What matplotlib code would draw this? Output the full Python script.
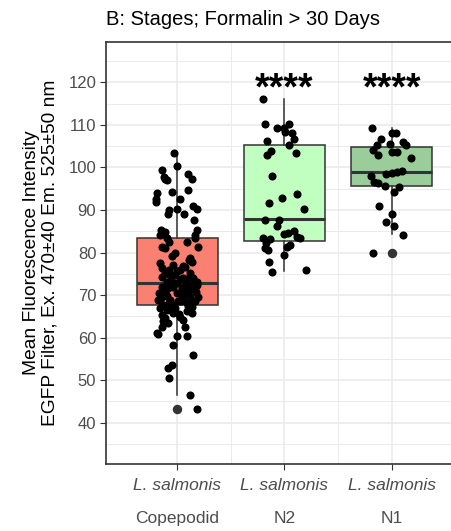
import numpy as np
import matplotlib
matplotlib.use("Agg")
import matplotlib.pyplot as plt

plt.rcParams['font.family'] = ['Liberation Sans', 'DejaVu Sans']

# stages on the x axis
stages = ["Copepodid", "N2", "N1"]
box_colors = ["#FA8072", "#C1FFC1", "#9BCD9B"]

# boxplot statistics
q1 = [67.7, 82.7, 95.7]
med = [72.8, 87.8, 98.9]
q3 = [83.4, 105.3, 104.9]
whis_lo = [46.6, 75.7, 84.4]
whis_hi = [103.3, 116.1, 109.2]
outliers = [[43.2], [], [79.8]]

# jittered points: values and horizontal jitter
cop_vals = [103.3, 100.4, 99.4, 97.8, 97.0, 97.4, 98.4, 97.2, 94.7, 94.3, 93.9, 92.7,
            91.8, 92.6, 91.0, 90.2, 90.0, 90.2, 89.0, 89.0, 87.7, 85.3, 85.3, 84.8,
            84.1, 84.5, 83.4, 84.1, 83.4, 82.6, 81.4, 81.4, 82.6, 81.0, 80.0, 78.7,
            77.9, 77.5, 77.1, 76.3, 75.9, 75.1, 74.7, 74.7, 75.1, 74.0, 74.0, 73.2,
            72.8, 72.4, 72.4, 72.0, 71.6, 72.0, 71.6, 72.0, 71.2, 70.0, 70.4, 70.0,
            69.6, 69.6, 68.9, 68.9, 68.5, 68.1, 68.5, 67.7, 67.7, 66.9, 66.5, 66.9,
            65.4, 65.8, 65.8, 64.6, 64.9, 63.8, 64.2, 63.4, 62.6, 62.6, 60.8, 60.3,
            60.3, 61.1, 58.3, 56.0, 53.6, 52.8, 50.5, 46.6, 43.2,
            73.6, 73.0, 71.0, 70.8, 69.2, 68.0, 73.8, 76.6, 79.2, 66.2, 70.6,
            74.4, 73.4, 72.2, 71.4, 70.2, 69.0, 68.2, 67.4, 75.6, 76.8, 74.2, 72.6,
            71.8, 70.8, 69.4, 68.6, 67.2, 66.4, 65.6, 73.0, 71.0, 69.8, 76.0, 78.2]
cop_jit = [-0.028, 0.0, -0.145, -0.124, -0.1, -0.115, 0.097, 0.134, 0.103, -0.052, -0.187, -0.199,
           -0.2, 0.025, 0.149, 0.18, -0.075, 0.0, -0.084, 0.062, 0.156, 0.18, -0.155, -0.115,
           -0.16, -0.124, -0.1, 0.165, 0.165, 0.088, 0.196, -0.145, -0.075, -0.115, -0.022, 0.119,
           0.134, -0.16, -0.037, -0.145, 0.025, -0.115, -0.068, -0.022, 0.119, 0.056, 0.149, -0.1,
           -0.006, 0.103, 0.18, -0.145, -0.084, -0.037, 0.041, 0.119, 0.165, -0.131, -0.006, 0.056,
           0.119, 0.196, -0.177, -0.068, 0.009, 0.088, 0.165, -0.131, -0.037, -0.16, -0.1, -0.022,
           -0.145, -0.037, 0.134, -0.115, 0.025, -0.131, 0.056, -0.084, -0.145, 0.072, -0.177, -0.006,
           0.088, -0.19, -0.037, 0.149, -0.052, -0.084, -0.075, 0.119, 0.18,
           0.08, -0.05, 0.1, -0.11, 0.04, 0.13, 0.03, 0.07, -0.05, 0.09, -0.17,
           0.12, 0.16, 0.07, 0.14, 0.09, 0.12, -0.08, 0.1, 0.0, 0.05, -0.14, -0.09,
           -0.12, 0.17, -0.15, 0.03, 0.14, -0.06, 0.02, 0.18, 0.08, -0.1, -0.08, 0.11]

n2_vals = [116.1, 110.2, 109.2, 109.2, 110.2, 108.4, 108.0, 106.7, 106.2, 105.4, 103.9,
           102.9, 103.3, 98.1, 92.9, 93.8, 91.6, 90.2, 87.7, 87.7, 86.3, 85.1, 84.3, 84.5,
           83.4, 83.2, 83.4, 83.7, 82.2, 81.8, 81.4, 81.0, 80.6, 79.4, 77.9, 75.5, 75.9]
n2_jit = [-0.205, -0.18, -0.071, -0.009, 0.044, 0.006, 0.069, 0.084, -0.164, 0.044, -0.127,
          -0.164, 0.106, -0.118, -0.024, 0.121, -0.149, 0.184, -0.18, -0.049, -0.071, 0.09, -0.009, 0.037,
          -0.196, -0.133, 0.146, 0.116, -0.171, 0.053, 0.022, -0.18, -0.155, -0.009, -0.14, -0.118, 0.2]

n1_vals = [109.2, 108.0, 108.0, 106.8, 106.0, 105.4, 105.4, 105.6, 104.2, 103.7, 103.7,
           102.9, 102.3, 99.2, 98.8, 99.0, 98.5, 98.1, 96.7, 96.4, 95.7, 95.5, 94.2, 90.9,
           89.0, 87.3, 86.3, 84.1, 79.8]
n1_jit = [-0.181, 0.0, 0.037, -0.1, 0.102, 0.134, -0.14, -0.016, -0.178, 0.006, 0.053,
          -0.131, 0.18, 0.093, 0.006, 0.047, -0.053, -0.193, -0.165, -0.131, -0.062, 0.068, 0.024, -0.116,
          0.0, -0.053, 0.024, 0.102, -0.171]

signif = ["", "****", "****"]
yticks = [40, 50, 60, 70, 80, 90, 100, 110, 120]

fig = plt.figure(figsize=(4.52, 5.31), dpi=100)
ax = fig.add_axes([106 / 452, 67 / 531, 357 / 452, 422 / 531])

pos = np.arange(1, len(stages) + 1)
stats = []
for i in range(len(stages)):
    stats.append(dict(q1=q1[i], med=med[i], q3=q3[i], whislo=whis_lo[i],
                      whishi=whis_hi[i], fliers=outliers[i]))

bp = ax.bxp(stats, positions=pos, widths=0.76, patch_artist=True, showcaps=False,
            boxprops=dict(edgecolor='#333333', linewidth=1.1),
            medianprops=dict(color='#333333', linewidth=2.2),
            whiskerprops=dict(color='#333333', linewidth=1.1),
            flierprops=dict(marker='o', markerfacecolor='#333333', markeredgecolor='#333333',
                            markersize=5.8),
            zorder=2)
for patch, c in zip(bp['boxes'], box_colors):
    patch.set_facecolor(c)

groups = [(cop_vals, cop_jit), (n2_vals, n2_jit), (n1_vals, n1_jit)]
for i, (vals, jit) in enumerate(groups):
    ax.scatter(pos[i] + np.array(jit), vals, s=34, color='black', zorder=3, linewidths=0)

for i, lab in enumerate(signif):
    if lab:
        ax.text(pos[i], 116.0, lab, ha='center', va='baseline', fontsize=27,
                fontweight='bold', color='black')

ax.set_xlim(0.335, 3.665)
ax.set_ylim(30.3, 129.5)
ax.set_yticks(yticks)
ax.set_yticks([35, 125] + list(np.array(yticks[:-1]) + 5), minor=True)
ax.set_xticks(pos)
ax.set_xticklabels(["L. salmonis"] * 3, fontstyle='italic')
ax.set_xticks([1.5, 2.5], minor=True)

ax.grid(True, which='major', color='#EBEBEB', linewidth=1.2)
ax.grid(True, which='minor', color='#EBEBEB', linewidth=0.7)
ax.set_axisbelow(True)
ax.tick_params(which='major', length=4, color='#333333', labelsize=12, labelcolor='#4D4D4D', pad=3)
ax.tick_params(axis='x', which='major', labelsize=12.5, pad=6)
ax.tick_params(which='minor', length=0)
for s in ax.spines.values():
    s.set_color('#333333')
    s.set_linewidth(1.2)

for i, st in enumerate(stages):
    ax.text(pos[i], -0.13, st, transform=ax.get_xaxis_transform(), ha='center', va='center',
            fontsize=12.5, color='#4D4D4D')

fig.text(106 / 452, 1 - 25 / 531, "B: Stages; Formalin > 30 Days", ha='left', va='baseline',
         fontsize=14.5, color='black')
fig.text(41 / 452, 1 - 253 / 531, "Mean Fluorescence Intensity\nEGFP Filter, Ex. 470\u00b140 Em. 525\u00b150 nm",
         rotation=90, ha='center', va='center', multialignment='center', fontsize=13.8,
         linespacing=1.1, color='black')

fig.savefig("out.png", dpi=100)
